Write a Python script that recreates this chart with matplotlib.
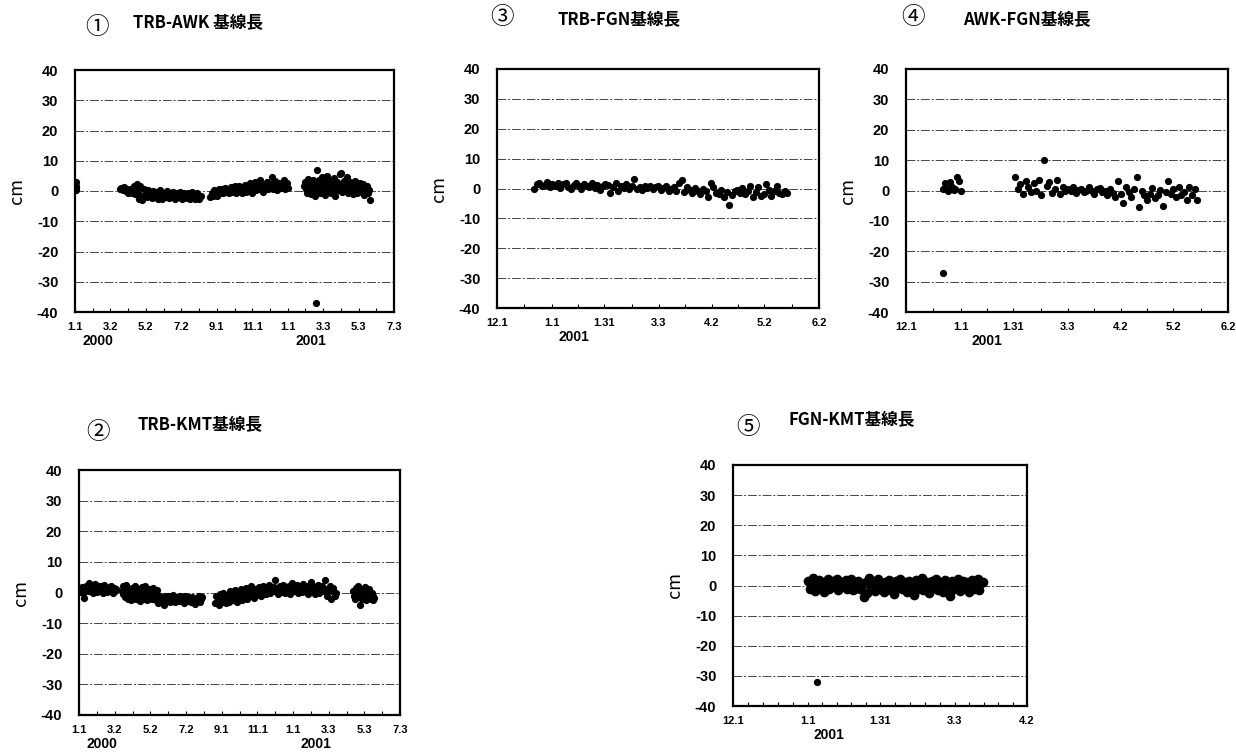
import datetime as dt
import matplotlib
matplotlib.use('Agg')
import matplotlib.pyplot as plt
import matplotlib.dates as mdates
import numpy as np

plt.rcParams['font.family'] = ['Noto Sans CJK JP', 'DejaVu Sans']

W, H = 1236, 754

# ---- data (cm, daily solutions) ----
# each segment: (start date, step in days, values)
trb_awk = [
    ('2000-01-01', 0.5, [2.5, 0.5, 1.8, 3.0, 1.0, 0.2]),
    ('2000-03-19', 2, [0.5, 1.0, 0.2, 1.2, 0.8, 0.0, 0.5, -0.5, 0.8, 0.3,
                       -0.8, 0.5, 1.5, -1.0, 2.3, 0.0, -2.5, 1.8, -1.5, -3.0,
                       0.5, -1.2, -0.5, -2.0, 0.3, -1.5, -0.8, -2.2, 0.0, -1.0,
                       -1.8, -0.3, -2.5, -1.2, 0.2, -1.5, -2.8, -0.5, -1.0, -2.0,
                       0.0, -1.3, -2.2, -0.6, -1.8, -0.2, -1.5, -2.6, -0.8, -1.2,
                       -2.0, -0.4, -1.6, -2.8, -1.0, -0.5, -1.8, -2.2, -0.6, -1.4,
                       -2.5, -1.0, -0.3, -1.9, -2.8, -1.2, -0.8, -2.0, -2.6, -1.5]),
    ('2000-08-21', 2, [-2.0, -0.8, -1.5, 0.2, -1.0, -0.3, -1.8, 0.5, -0.5, 0.0,
                       0.8, -0.6, 0.3, 1.0, -0.2, 0.6, -0.8, 0.4, 1.2, -0.4,
                       0.2, 1.5, -0.5, 0.8, 0.0, 1.8, 0.4, -0.7, 1.0, 0.6,
                       2.0, -0.3, 1.2, 0.5, 2.5, 0.8, -0.5, 1.5, 3.0, 0.2,
                       1.0, 2.2, 0.6, 3.5, 1.4, -0.2, 2.0, 0.8, 1.6, 3.0,
                       0.5, 2.4, 1.2, 4.5, 0.8, 1.8, 3.2, 0.3, 1.5, 2.6,
                       0.9, 2.0, 1.2, 3.5, 0.6, 1.8, 2.8, 1.0]),
    ('2001-01-29', 1.5, [1.5, 3.0, 0.5, 2.2, -0.5, 4.0, 1.0, 2.8, -1.0, 1.8,
                         3.5, 0.2, 2.5, -1.5, 1.2, 7.0, 0.8, 3.8, 2.0, -0.8,
                         1.5, 4.5, 0.4, 2.6, -1.2, 3.2, 1.0, 5.0, 0.0, 2.2,
                         3.6, -0.6, 1.4, 2.8, 0.6, 4.2, -1.5, 1.8, 3.0, 0.2,
                         2.4, 5.5, 1.0, 6.0, -0.4, 2.0, 3.4, 0.8, 1.6, 4.5,
                         -0.8, 2.6, 1.2, 3.0, 0.4, 1.8, -1.0, 2.4, 0.6, 3.2,
                         1.0, -0.5, 2.0, 0.8, 2.8, -0.2, 1.4, 0.2, 2.2, -1.2,
                         1.0, 0.4, 1.6, -0.6, 0.8, 0.2, -3.0]),
    ('2001-02-18', 1, [-37.0]),
]

trb_kmt = [
    ('2000-01-01', 1.5, [0.2, 1.0, 0.5, 1.8, 0.0, 1.2, -1.8, 0.8, 2.0, 1.5,
                         0.4, 3.2, 1.0, 0.6, 2.4, 1.2, 0.0, 1.6, 2.8, 0.8,
                         1.4, 0.2, 2.0, 1.0, 0.5, 2.2, 1.5, 0.0, 1.2, 2.5,
                         0.6, 1.8, 0.2, 1.0, 1.6, 0.4, 2.0, 0.8, 1.2, 0.0,
                         1.5, 0.6, 1.0]),
    ('2000-03-14', 1.5, [0.5, 2.0, -0.5, 1.0, -1.5, 2.4, 0.2, -2.0, 1.2, -0.8,
                         0.8, -2.5, 1.6, -1.0, 0.0, 2.2, -2.2, 0.6, -1.5, 1.0,
                         -0.5, -2.8, 0.4, 1.8, -1.2, -2.0, 0.2, 2.0, -1.0, -2.6,
                         0.6, -1.5, 1.2, -0.4, -2.2, 0.0, 1.5, -1.8, -0.8, -2.5,
                         0.8]),
    ('2000-05-13', 2, [-1.5, -3.5, -2.0, -1.0, -2.8, -1.8, -4.0, -1.2, -2.5, -2.0,
                       -1.0, -3.0, -1.8, -2.4, -0.8, -2.2, -3.2, -1.5, -2.0, -2.8,
                       -1.2, -2.5, -1.8, -3.5, -1.0, -2.2, -2.8, -1.6, -2.0, -3.0,
                       -1.4, -2.6, -2.0, -3.8, -1.8, -2.4, -1.2, -3.0, -2.2, -1.6]),
    ('2000-08-21', 2, [-3.5, -1.0, -2.5, -4.0, -0.5, -2.0, -3.0, 0.0, -1.5, -3.5,
                       -2.2, -0.8, -3.0, 0.5, -1.8, -2.6, -1.0, 0.8, -2.0, -3.2,
                       -0.5, -1.5, 1.0, -2.5, 0.0, -1.2, 1.5, -2.0, -0.5, 0.8,
                       -1.0, 2.0, -0.2, -1.8, 1.2, 0.4, -0.8, 1.8, 0.0, -1.2,
                       1.0, 2.2, 0.2, -0.5, 1.6, 0.8, 2.5, -0.2, 1.2, 0.5,
                       1.8, 4.0, 0.6, 1.4, -0.4, 2.0, 1.0, 0.2, 2.6, 1.5,
                       0.0, 1.8, 0.8, 2.2, -0.5, 1.2, 3.0, 0.4, 1.6, 0.8,
                       2.4, -0.2, 1.0, 1.8, 0.2, 2.8, 1.4, 0.6, 2.0, -0.6,
                       1.2, 0.4, 3.5, 1.0, 2.2, -0.4, 1.6, 0.8, 2.6, 0.0,
                       1.4, 2.0, 0.4, 1.0, 4.0, 1.2, -1.0, 0.8, 2.0, -2.0,
                       0.5, 1.5, -1.2, 0.0]),
    ('2001-04-14', 1.5, [0.5, -1.0, -2.0, 1.5, 0.0, -1.5, 2.0, -0.5, -4.0, 1.0,
                         -2.2, 0.2, -1.2, 1.8, -0.8, -2.5, 0.6, -1.5, 1.2, -0.2,
                         -2.0, 0.0, -1.0, -2.5, -1.8]),
]

trb_fgn = [
    ('2000-12-22', 1.5, [0.0, 1.5, 2.0, 0.8, 1.2, 2.2, 0.5, 1.6, 1.0, 2.0,
                         0.3, 1.4, 1.8, 0.6, 0.0, 1.2, 2.0, 0.8, -0.2, 1.5,
                         1.0, 0.4, 1.8, 0.2, 1.2, -0.5, 0.8, 1.5, 1.2, -1.5,
                         0.6, 2.0, -0.8, 1.0, 0.2, 1.6, -0.2, 0.8, 3.2, 0.0,
                         0.6, -0.4, 1.0, 0.2, 0.8, -0.2, 0.4, 0.8, -0.6, 0.2,
                         1.0, -0.8, 0.0, 0.6, -1.0, 1.8, 2.8, -1.2, 0.4, -0.6,
                         -1.5, 0.2, -1.0, -2.0, 0.0, -0.8, -3.0, 2.0, 0.4, -1.5,
                         -1.8, -0.6, -2.8, -1.2, -5.5, -2.2, -1.0, -0.4, -1.6, 0.2,
                         -2.0, -0.8, 1.0, -3.0, -1.2, 0.6, -2.4, -1.8, 1.5, -0.5,
                         -2.6, -1.0, 0.8, -1.5, -2.0, -0.8, -1.5]),
]

awk_fgn = [
    ('2000-12-22', 1, [-27.0]),
    ('2000-12-22', 1, [0.5, 2.5, 0.8, 0.0, 2.8, 1.2, 0.2, 0.5, 4.5, 3.0, 0.0]),
    ('2001-02-01', 1.5, [4.5, 0.5, 2.0, -1.0, 3.0, 1.0, -0.5, 2.5, 0.0, 3.5,
                         -1.5, 10.0, 1.5, 2.8, -0.8, 0.5, 3.5, -1.0, 1.2, 0.0,
                         0.5, -0.2, 1.0, -0.8, 0.2, 0.6, -0.5, 0.0, 1.2, -0.3,
                         -1.0, 0.4, 0.8, -0.6, 0.0, -1.5, 0.5, -0.8, -2.0, 3.0,
                         -1.0, -4.0, 1.0, -0.5, -2.0, 0.6, 4.5, -5.5, 0.0, -1.5,
                         -3.0, -1.0, 0.8, -2.5, -1.5, 0.2, -5.0, -0.6, 3.0, -1.2,
                         0.5, -2.0, 1.0, -1.5, -0.5, -3.0, 1.0, -1.5, 0.5, -3.0]),
]

fgn_kmt = [
    ('2001-01-05', 1, [-32.0]),
    ('2001-01-01', 0.75, [1.5, -1.0, 0.5, 2.5, -1.8, 0.0, 1.8, -0.8, 1.0, -2.0,
                          0.8, 2.0, -1.2, 0.3, 1.5, -0.5, 2.2, -1.5, 0.6, 1.2,
                          -0.3, 1.8, -1.0, 0.4, 2.0, -1.6, 0.9, -0.2, 1.4, -1.2,
                          0.2, -3.8, 1.0, -2.5, 2.6, -0.8, 1.6, -1.8, 0.4, 2.0,
                          -1.0, 0.8, -2.2, 1.2, 0.0, 1.8, -1.5, 0.5, -2.8, 1.4,
                          -0.6, 2.2, -1.2, 0.2, 1.0, -2.0, 1.6, -0.4, 0.8, -3.2,
                          1.8, -1.0, 0.6, 2.4, -1.6, 0.0, 1.2, -2.4, 0.8, 1.6,
                          -0.8, 2.0, -1.4, 0.4, 1.0, -2.0, 1.8, -0.6, 0.2, -3.5,
                          1.4, -1.2, 0.8, 2.2, -1.8, 0.5, 1.6, -0.8, 1.0, -2.2,
                          0.6, 1.8, -1.0, 0.2, 2.0, -1.5, 0.8, 1.2]),
]

# tick dates and labels
ticks_long = ['2000-01-01', '2000-03-02', '2000-05-02', '2000-07-02', '2000-09-01',
              '2000-11-01', '2001-01-01', '2001-03-03', '2001-05-03', '2001-07-03']
labels_long = ['1.1', '3.2', '5.2', '7.2', '9.1', '11.1', '1.1', '3.3', '5.3', '7.3']
ticks_mid = ['2000-12-01', '2001-01-01', '2001-01-31', '2001-03-03', '2001-04-02',
             '2001-05-02', '2001-06-02']
labels_mid = ['12.1', '1.1', '1.31', '3.3', '4.2', '5.2', '6.2']
ticks_short = ticks_mid[:5]
labels_short = labels_mid[:5]

yticks = [-40, -30, -20, -10, 0, 10, 20, 30, 40]


def d(s):
    return dt.datetime.strptime(s, '%Y-%m-%d')


def px(x0, y0, x1, y1):
    return [x0 / W, 1 - y1 / H, (x1 - x0) / W, (y1 - y0) / H]


fig = plt.figure(figsize=(W / 100, H / 100), dpi=100)


def panel(rect, segs, ticks, labels, nminor, years, num, title, num_xy, title_xy, ms=5.2):
    ax = fig.add_axes(px(*rect))
    for start, step, vals in segs:
        xs = [d(start) + dt.timedelta(days=step * i) for i in range(len(vals))]
        size = ms if len(vals) > 1 else 5.2  # lone outliers keep the normal dot
        ax.plot(xs, vals, 'o', color='black', ms=size, mec='none')
    tnum = mdates.date2num([d(t) for t in ticks])
    ax.set_xlim(tnum[0], tnum[-1])
    ax.set_xticks(tnum)
    ax.set_xticklabels(labels, fontsize=8, fontweight='bold', family='Liberation Sans')
    minors = []
    for a, b in zip(tnum[:-1], tnum[1:]):
        minors += list(np.linspace(a, b, nminor + 1)[1:-1])
    ax.set_xticks(minors, minor=True)
    ax.tick_params(axis='x', which='both', direction='in', length=3, width=0.8, pad=7)
    ax.set_ylim(-40, 40)
    ax.set_yticks(yticks)
    ax.set_yticklabels([str(v) for v in yticks], fontsize=10.5, fontweight='bold',
                       family='Liberation Sans')
    ax.tick_params(axis='y', length=0, pad=12)
    ax.grid(axis='y', color='#444444', lw=0.7, linestyle=(0, (9, 2, 2, 2)))
    for s in ax.spines.values():
        s.set_linewidth(1.6)
    ax.set_ylabel('cm', fontsize=13, labelpad=8)
    hpx = rect[3] - rect[1]
    for yx, ylab in years:
        ax.text(mdates.date2num(d(yx)), -22 / hpx, ylab, transform=ax.get_xaxis_transform(),
                ha='center', va='top', fontsize=10, fontweight='bold', family='Liberation Sans')
    fig.text(num_xy[0] / W, 1 - num_xy[1] / H, num, fontsize=17, ha='center', va='center')
    fig.text(title_xy[0] / W, 1 - title_xy[1] / H, title, fontsize=12,
             fontweight='bold', ha='left', va='center')
    return ax


panel((75, 70, 394, 312), trb_awk, ticks_long, labels_long, 2,
      [('2000-02-10', '2000'), ('2001-02-10', '2001')],
      '①', 'TRB-AWK 基線長', (97, 28), (133, 23))
panel((497, 69, 819, 308), trb_fgn, ticks_mid, labels_mid, 2,
      [('2001-01-14', '2001')],
      '③', 'TRB-FGN基線長', (502, 18), (558, 20))
panel((906, 69, 1228, 312), awk_fgn, ticks_mid, labels_mid, 2,
      [('2001-01-16', '2001')],
      '④', 'AWK-FGN基線長', (913, 18), (963, 20))
panel((79, 470, 400, 715), trb_kmt, ticks_long, labels_long, 2,
      [('2000-02-10', '2000'), ('2001-02-10', '2001')],
      '②', 'TRB-KMT基線長', (98, 432), (138, 425))
panel((733, 465, 1027, 706), fgn_kmt, ticks_short, labels_short, 5,
      [('2001-01-10', '2001')],
      '⑤', 'FGN-KMT基線長', (748, 428), (788, 420), ms=7)

fig.savefig('out.png', dpi=100)
